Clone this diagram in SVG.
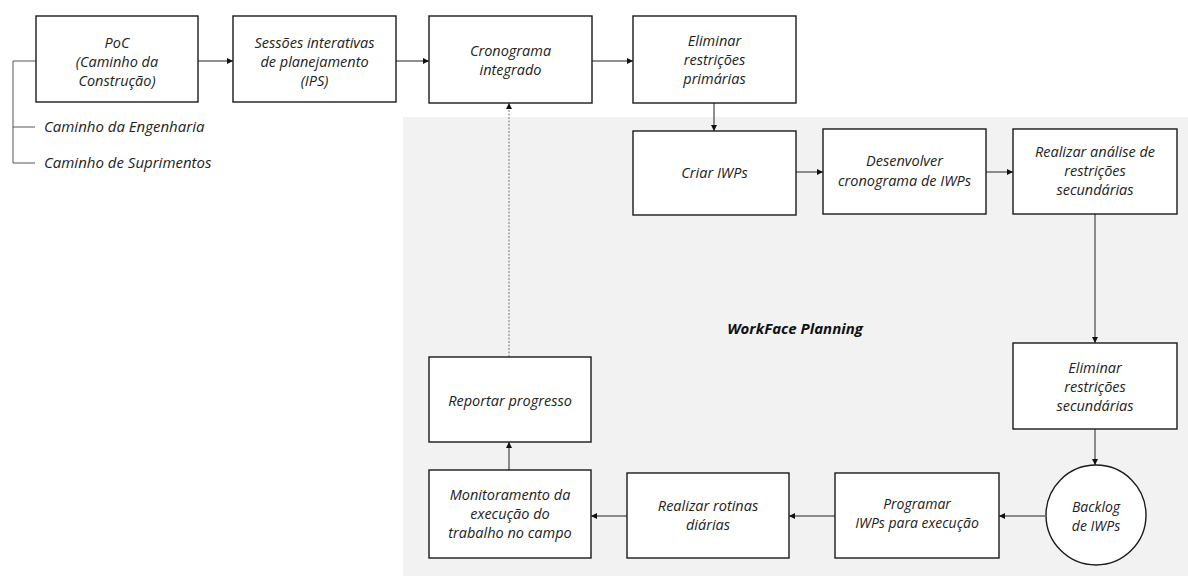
<svg xmlns="http://www.w3.org/2000/svg" width="1188" height="576" viewBox="0 0 1188 576">
<defs>
<style>
.bx{fill:#fff;stroke:#1a1a1a;stroke-width:1.4}
.t{font-family:"Open Sans","Liberation Sans",sans-serif;font-style:italic;font-size:14.5px;fill:#222;text-anchor:middle}
.s{font-size:14px}
.tl{font-family:"Open Sans","Liberation Sans",sans-serif;font-style:italic;font-size:15px;fill:#222}
.c{fill:none;stroke:#222;stroke-width:1}
.g{fill:none;stroke:#555;stroke-width:1}
</style>
<marker id="ah" viewBox="0 0 10 10" refX="10" refY="5" markerWidth="6" markerHeight="6" markerUnits="userSpaceOnUse" orient="auto">
<path d="M0,0 L10,5 L0,10 z" fill="#111"/>
</marker>
</defs>
<rect x="0" y="0" width="1188" height="576" fill="#fff"/>
<rect id="wfp-area" x="403" y="117" width="785" height="459" fill="#f2f2f2"/>
<text x="795" y="334" font-family="'Open Sans','Liberation Sans',sans-serif" font-style="italic" font-weight="bold" font-size="15" fill="#111" text-anchor="middle">WorkFace Planning</text>

<g id="connectors">
<path class="g" d="M36,61 H13 V163 H35 M13,127 H35"/>
<line class="c" x1="198" y1="61" x2="233" y2="61" marker-end="url(#ah)"/>
<line class="c" x1="396" y1="61" x2="429" y2="61" marker-end="url(#ah)"/>
<line class="c" x1="592" y1="61" x2="633" y2="61" marker-end="url(#ah)"/>
<line class="c" x1="714" y1="103" x2="714" y2="131" marker-end="url(#ah)"/>
<line class="c" x1="796" y1="172" x2="823" y2="172" marker-end="url(#ah)"/>
<line class="c" x1="986" y1="172" x2="1013" y2="172" marker-end="url(#ah)"/>
<line class="c" x1="1095" y1="214" x2="1095" y2="343" marker-end="url(#ah)"/>
<line class="c" x1="1095" y1="429" x2="1095" y2="465" marker-end="url(#ah)"/>
<line class="c" x1="1045" y1="516" x2="999" y2="516" marker-end="url(#ah)"/>
<line class="c" x1="835" y1="516" x2="789" y2="516" marker-end="url(#ah)"/>
<line class="c" x1="627" y1="516" x2="591" y2="516" marker-end="url(#ah)"/>
<line class="c" x1="509" y1="470" x2="509" y2="442" marker-end="url(#ah)"/>
<line x1="509" y1="357" x2="509" y2="103" stroke="#777" stroke-width="1" stroke-dasharray="2,1.5" marker-end="url(#ah)"/>
</g>

<g id="legend">
<text class="tl" x="44" y="132">Caminho da Engenharia</text>
<text class="tl" x="44" y="168">Caminho de Suprimentos</text>
</g>

<g id="poc">
<rect class="bx" x="36" y="16" width="162" height="86"/>
<text class="t" x="117" y="48">PoC</text>
<text class="t" x="117" y="67">(Caminho da</text>
<text class="t" x="117" y="86">Construção)</text>
</g>
<g id="ips">
<rect class="bx" x="233" y="16" width="163" height="86"/>
<text class="t" x="314.5" y="48">Sessões interativas</text>
<text class="t" x="314.5" y="67">de planejamento</text>
<text class="t" x="314.5" y="86">(IPS)</text>
</g>
<g id="cronograma">
<rect class="bx" x="429" y="16" width="163" height="87"/>
<text class="t" x="510.5" y="56">Cronograma</text>
<text class="t" x="510.5" y="75">integrado</text>
</g>
<g id="elim-prim">
<rect class="bx" x="633" y="16" width="163" height="87"/>
<text class="t" x="714.5" y="46">Eliminar</text>
<text class="t" x="714.5" y="65">restrições</text>
<text class="t" x="714.5" y="84">primárias</text>
</g>
<g id="criar">
<rect class="bx" x="633" y="131" width="163" height="84"/>
<text class="t" x="714.5" y="178">Criar IWPs</text>
</g>
<g id="desenvolver">
<rect class="bx" x="823" y="129" width="163" height="85"/>
<text class="t" x="904.5" y="166">Desenvolver</text>
<text class="t" x="904.5" y="186">cronograma de IWPs</text>
</g>
<g id="analise">
<rect class="bx" x="1013" y="129" width="164" height="85"/>
<text class="t" x="1095" y="157">Realizar análise de</text>
<text class="t" x="1095" y="176">restrições</text>
<text class="t" x="1095" y="195">secundárias</text>
</g>
<g id="elim-sec">
<rect class="bx" x="1013" y="343" width="164" height="86"/>
<text class="t" x="1095" y="373">Eliminar</text>
<text class="t" x="1095" y="392">restrições</text>
<text class="t" x="1095" y="411">secundárias</text>
</g>
<g id="backlog">
<circle class="bx" cx="1096" cy="515" r="50"/>
<text class="t s" x="1096" y="512">Backlog</text>
<text class="t s" x="1096" y="531">de IWPs</text>
</g>
<g id="programar">
<rect class="bx" x="835" y="473" width="164" height="85"/>
<text class="t s" x="917" y="509">Programar</text>
<text class="t s" x="917" y="528">IWPs para execução</text>
</g>
<g id="rotinas">
<rect class="bx" x="627" y="473" width="162" height="85"/>
<text class="t" x="708" y="511">Realizar rotinas</text>
<text class="t" x="708" y="530">diárias</text>
</g>
<g id="monitoramento">
<rect class="bx" x="429" y="470" width="162" height="88"/>
<text class="t" x="510" y="500">Monitoramento da</text>
<text class="t" x="510" y="519">execução do</text>
<text class="t" x="510" y="538">trabalho no campo</text>
</g>
<g id="reportar">
<rect class="bx" x="429" y="357" width="162" height="85"/>
<text class="t" x="510" y="406">Reportar progresso</text>
</g>
</svg>
